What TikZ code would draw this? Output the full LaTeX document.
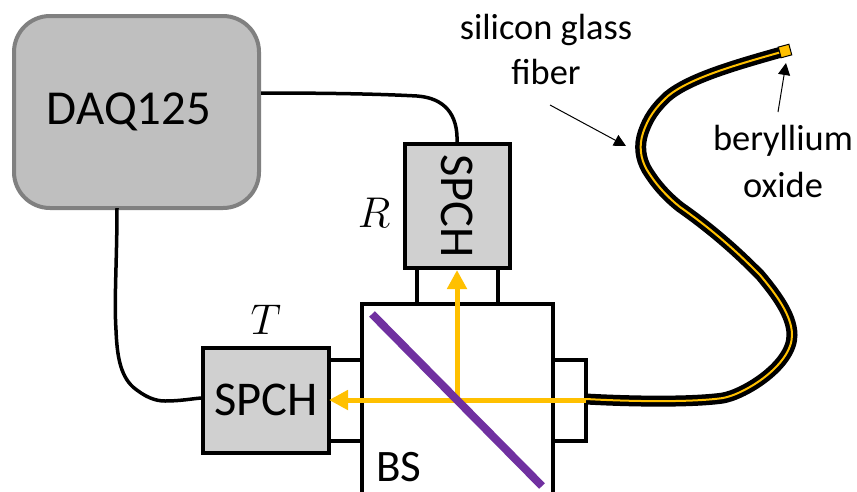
\documentclass[tikz,border=0pt]{standalone}
\usepackage{fix-cm}
\usepackage{fontspec}
\setmainfont{Carlito}
\usetikzlibrary{arrows.meta}
\definecolor{beam}{HTML}{FFC000}
\definecolor{splitter}{HTML}{7030A0}
\definecolor{boxgray}{HTML}{D0D0D0}
\tikzset{
    detbox/.style={draw, line width=4pt, fill=boxgray, inner sep=0pt, font=\fontsize{48.5}{48.5}\selectfont},
    port/.style={draw, line width=4pt, fill=white, inner sep=0pt},
    wire/.style={line width=3.5pt},
    beamline/.style={line width=5pt, beam, -{Triangle[length=19pt,width=19pt]}},
    callout/.style={line width=1pt, -{Triangle[length=12pt,width=12pt]}},
    lbl/.style={inner sep=0pt, font=\fontsize{36.4}{36.4}\selectfont}
}
\begin{document}
\begin{tikzpicture}[x=1pt, y=-1pt]
    \clip (0,0) rectangle (857,491);
    % ports first, boxes go over them
    \node(port_r) at(457, 286) [port, minimum width=81pt, minimum height=40pt] {};
    \node(port_t) at(345, 400) [port, minimum width=40pt, minimum height=81pt] {};
    \node(port_f) at(569, 400) [port, minimum width=34pt, minimum height=81pt] {};
    \node(bs) at(457.5, 414) [port, minimum width=191pt, minimum height=220pt] {};
    \node(bs_lbl) at(399, 467) [lbl, font=\fontsize{45}{45}\selectfont] {BS};
    \node(daq) at(136.5, 112) [draw=black!50, line width=4pt, fill=black!25, rounded corners=36pt, minimum width=245pt, minimum height=192pt, inner sep=0pt] {};
    \node(daq_lbl) at(129, 112) [inner sep=0pt, font=\fontsize{48.8}{48.8}\selectfont] {DAQ125};
    \node(spch_r) at(457.5, 206) [detbox, minimum width=105pt, minimum height=124pt] {\rotatebox{-90}{SPCH}};
    \node(spch_t) at(266, 400) [detbox, minimum width=126pt, minimum height=105pt] {SPCH};
    \node(lbl_r) at(374, 213) [lbl, font=\fontsize{43}{43}\selectfont] {$R$};
    \node(lbl_t) at(266, 320) [lbl, font=\fontsize{43}{43}\selectfont] {$T$};

    % cables
    \draw[wire] (daq.east |- 0,93) .. controls (330,93) and (380,94) .. (417,96) .. controls (445,98) and (458,115) .. (457,142);
    \draw[wire] (117,208) .. controls (117,260) and (114,300) .. (116,330) .. controls (117,355) and (120,375) .. (133,387) .. controls (145,397) and (155,401) .. (165,401) .. controls (180,401) and (190,399) .. (spch_t.west |- 0,398);

    % fiber
    \coordinate(fib_in) at(586, 399);
    \coordinate(fib_tip) at(785, 51);
    \def\fibpath{(fib_in) .. controls (640,402) and (695,402) .. (723,398) .. controls (745,394) and (792,365) .. (792,335) .. controls (792,315) and (775,293) .. (760,275) .. controls (745,260) and (720,235) .. (680,207) .. controls (665,195) and (655,183) .. (647,170) .. controls (640,158) and (639,145) .. (643,133) .. controls (648,118) and (655,108) .. (668,96) .. controls (690,78) and (735,65) .. (fib_tip)}
    \draw[line width=11pt] \fibpath;
    \draw[line width=2pt, beam] \fibpath;
    \node(tip) at(fib_tip) [draw, line width=1pt, fill=beam, rotate=15, minimum size=11pt, inner sep=0pt] {};

    % beams
    \coordinate(hit) at(457, 400);
    \draw[beamline] (586, 400) -- (329, 400);
    \draw[beamline] (hit) -- (457, 270);
    \draw[line width=8pt, splitter] (372, 314) -- (542, 486);

    % labels
    \node(sil_a) at(546, 30) [lbl] {silicon glass};
    \node(sil_b) at(546, 72) [lbl] {fiber};
    \node(ber_a) at(783, 141) [lbl] {beryllium};
    \node(ber_b) at(783, 185) [lbl] {oxide};
    \draw[callout] (550, 105) -- (626, 146);
    \draw[callout] (778, 112) -- (786, 63);
\end{tikzpicture}
\end{document}
